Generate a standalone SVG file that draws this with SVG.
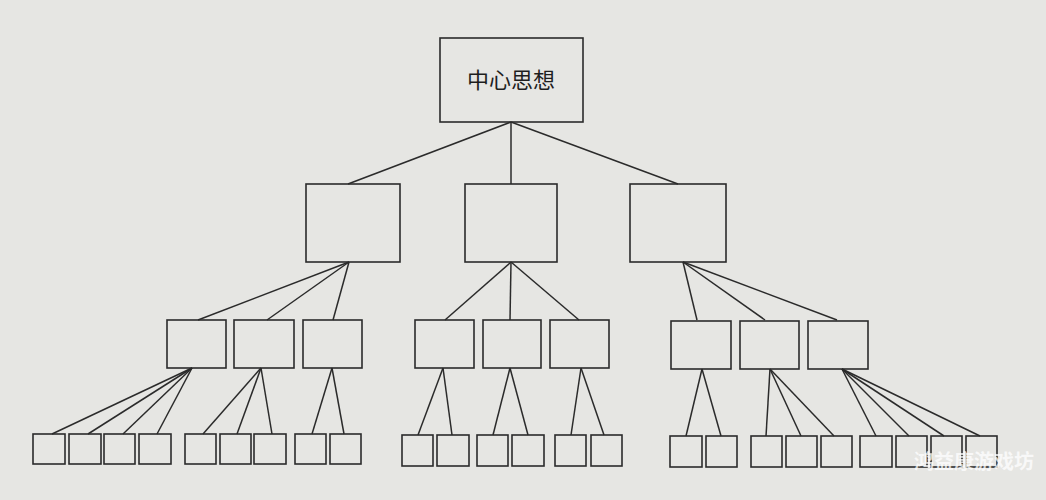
<svg xmlns="http://www.w3.org/2000/svg" width="1046" height="500" viewBox="0 0 1046 500">
<style>
.b{fill:none;stroke:#2b2b2b;stroke-width:1.6}
.c line{stroke:#2b2b2b;stroke-width:1.5}
.t{font-family:"Noto Sans CJK SC","Noto Sans CJK JP",sans-serif;font-size:22px;fill:#1e1e1e}
.w{font-family:"Noto Sans CJK SC",sans-serif;font-weight:bold;font-size:20px;fill:#ffffff;fill-opacity:0.75}
</style>
<rect width="1046" height="500" fill="#e6e6e3"/>
<g class="c" id="connectors">
<line x1="511" y1="122" x2="348" y2="184"/>
<line x1="511" y1="122" x2="511" y2="184"/>
<line x1="511" y1="122" x2="678" y2="184"/>
<line x1="349" y1="262" x2="198" y2="320"/>
<line x1="349" y1="262" x2="267" y2="320"/>
<line x1="349" y1="262" x2="333" y2="320"/>
<line x1="511" y1="262" x2="445" y2="320"/>
<line x1="511" y1="262" x2="510" y2="320"/>
<line x1="511" y1="262" x2="579" y2="320"/>
<line x1="683" y1="262" x2="697" y2="320"/>
<line x1="683" y1="262" x2="765" y2="320"/>
<line x1="683" y1="262" x2="837" y2="320"/>
<line x1="192" y1="368" x2="52" y2="434"/>
<line x1="192" y1="368" x2="88" y2="434"/>
<line x1="192" y1="368" x2="123" y2="434"/>
<line x1="192" y1="368" x2="157" y2="434"/>
<line x1="261" y1="368" x2="203" y2="434"/>
<line x1="261" y1="368" x2="237" y2="434"/>
<line x1="261" y1="368" x2="272" y2="434"/>
<line x1="332" y1="368" x2="312" y2="434"/>
<line x1="332" y1="368" x2="344" y2="434"/>
<line x1="443" y1="368" x2="418" y2="435"/>
<line x1="443" y1="368" x2="452" y2="435"/>
<line x1="510" y1="368" x2="493" y2="435"/>
<line x1="510" y1="368" x2="528" y2="435"/>
<line x1="581" y1="368" x2="571" y2="435"/>
<line x1="581" y1="368" x2="604" y2="435"/>
<line x1="702" y1="369" x2="686" y2="436"/>
<line x1="702" y1="369" x2="721" y2="436"/>
<line x1="770" y1="369" x2="766" y2="436"/>
<line x1="770" y1="369" x2="801" y2="436"/>
<line x1="770" y1="369" x2="834" y2="436"/>
<line x1="842" y1="369" x2="876" y2="436"/>
<line x1="842" y1="369" x2="909" y2="436"/>
<line x1="842" y1="369" x2="944" y2="436"/>
<line x1="842" y1="369" x2="980" y2="436"/>
</g>
<g id="root"><rect class="b" x="440" y="38" width="143" height="84"/><text class="t" x="511" y="88" text-anchor="middle">中心思想</text></g>
<g id="n1"><rect class="b" x="306" y="184" width="94" height="78"/></g>
<g id="n2"><rect class="b" x="465" y="184" width="92" height="78"/></g>
<g id="n3"><rect class="b" x="630" y="184" width="96" height="78"/></g>
<g id="n1a"><rect class="b" x="167" y="320" width="59" height="48"/></g>
<g id="n1b"><rect class="b" x="234" y="320" width="60" height="48"/></g>
<g id="n1c"><rect class="b" x="303" y="320" width="59" height="48"/></g>
<g id="n2a"><rect class="b" x="415" y="320" width="59" height="48"/></g>
<g id="n2b"><rect class="b" x="483" y="320" width="58" height="48"/></g>
<g id="n2c"><rect class="b" x="550" y="320" width="59" height="48"/></g>
<g id="n3a"><rect class="b" x="671" y="321" width="60" height="48"/></g>
<g id="n3b"><rect class="b" x="740" y="321" width="59" height="48"/></g>
<g id="n3c"><rect class="b" x="808" y="321" width="60" height="48"/></g>
<g id="l1"><rect class="b" x="33" y="434" width="32" height="30"/></g>
<g id="l2"><rect class="b" x="69" y="434" width="32" height="30"/></g>
<g id="l3"><rect class="b" x="104" y="434" width="31" height="30"/></g>
<g id="l4"><rect class="b" x="139" y="434" width="32" height="30"/></g>
<g id="l5"><rect class="b" x="185" y="434" width="31" height="30"/></g>
<g id="l6"><rect class="b" x="220" y="434" width="31" height="30"/></g>
<g id="l7"><rect class="b" x="254" y="434" width="32" height="30"/></g>
<g id="l8"><rect class="b" x="295" y="434" width="31" height="30"/></g>
<g id="l9"><rect class="b" x="330" y="434" width="31" height="30"/></g>
<g id="l10"><rect class="b" x="402" y="435" width="31" height="31"/></g>
<g id="l11"><rect class="b" x="437" y="435" width="32" height="31"/></g>
<g id="l12"><rect class="b" x="477" y="435" width="31" height="31"/></g>
<g id="l13"><rect class="b" x="512" y="435" width="32" height="31"/></g>
<g id="l14"><rect class="b" x="555" y="435" width="31" height="31"/></g>
<g id="l15"><rect class="b" x="591" y="435" width="31" height="31"/></g>
<g id="l16"><rect class="b" x="670" y="436" width="32" height="31"/></g>
<g id="l17"><rect class="b" x="706" y="436" width="31" height="31"/></g>
<g id="l18"><rect class="b" x="751" y="436" width="31" height="31"/></g>
<g id="l19"><rect class="b" x="786" y="436" width="31" height="31"/></g>
<g id="l20"><rect class="b" x="821" y="436" width="31" height="31"/></g>
<g id="l21"><rect class="b" x="860" y="436" width="32" height="31"/></g>
<g id="l22"><rect class="b" x="896" y="436" width="31" height="31"/></g>
<g id="l23"><rect class="b" x="931" y="436" width="31" height="31"/></g>
<g id="l24"><rect class="b" x="966" y="436" width="31" height="31"/></g>
<text class="w" x="914" y="469">鸿益康游戏坊</text>
</svg>
